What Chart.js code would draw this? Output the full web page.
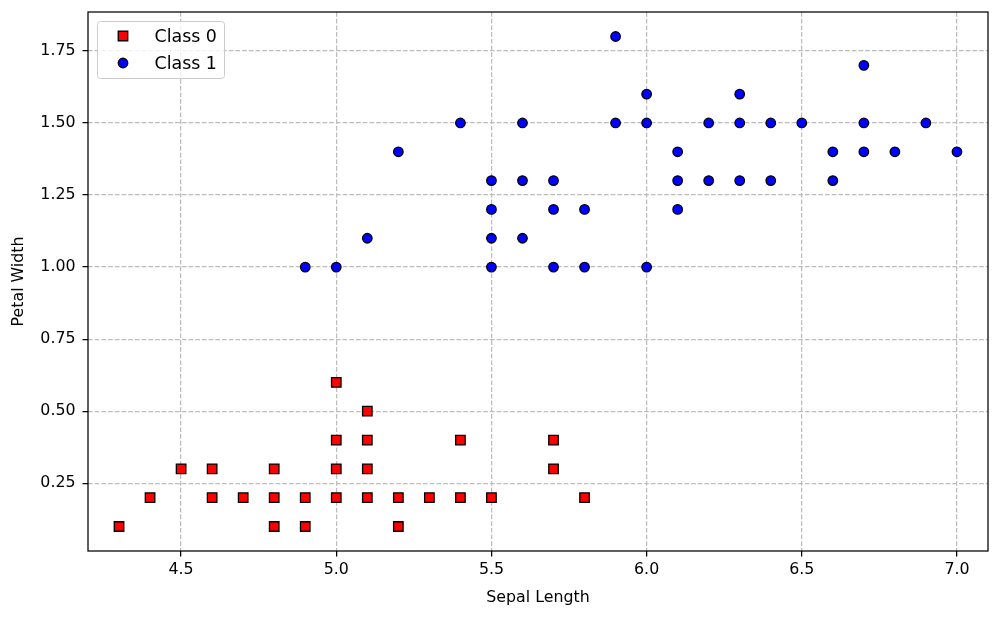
<!DOCTYPE html>
<html>
<head>
<meta charset="utf-8">
<title>Iris scatter</title>
<script src="https://cdn.jsdelivr.net/npm/chart.js@4/dist/chart.umd.min.js"></script>
<style>
  html, body { margin: 0; padding: 0; background: #fff; }
  canvas { display: block; }
</style>
</head>
<body>
<canvas id="chart" width="1000" height="618"></canvas>
<script>
/* ================================
   Data
================================ */
const class0X = [4.3, 4.4, 4.5, 4.6, 4.6, 4.7, 4.8, 4.8, 4.8, 4.9, 4.9, 5.0, 5.0, 5.0, 5.0,
                 5.1, 5.1, 5.1, 5.1, 5.2, 5.2, 5.3, 5.4, 5.4, 5.5, 5.7, 5.7, 5.8];
const class0Y = [0.1, 0.2, 0.3, 0.3, 0.2, 0.2, 0.3, 0.2, 0.1, 0.2, 0.1, 0.6, 0.4, 0.3, 0.2,
                 0.5, 0.4, 0.3, 0.2, 0.2, 0.1, 0.2, 0.4, 0.2, 0.2, 0.4, 0.3, 0.2];

const class1X = [4.9, 5.0, 5.1, 5.2, 5.4, 5.5, 5.5, 5.5, 5.5, 5.6, 5.6, 5.6, 5.7, 5.7, 5.7,
                 5.8, 5.8, 5.9, 5.9, 6.0, 6.0, 6.0, 6.1, 6.1, 6.1, 6.2, 6.2, 6.3, 6.3, 6.3,
                 6.4, 6.4, 6.5, 6.6, 6.6, 6.7, 6.7, 6.7, 6.8, 6.9, 7.0];
const class1Y = [1.0, 1.0, 1.1, 1.4, 1.5, 1.3, 1.2, 1.1, 1.0, 1.5, 1.3, 1.1, 1.3, 1.2, 1.0,
                 1.2, 1.0, 1.8, 1.5, 1.6, 1.5, 1.0, 1.4, 1.3, 1.2, 1.5, 1.3, 1.6, 1.5, 1.3,
                 1.5, 1.3, 1.5, 1.4, 1.3, 1.7, 1.5, 1.4, 1.4, 1.5, 1.4];

const xTicks = [4.5, 5.0, 5.5, 6.0, 6.5, 7.0];
const yTicks = [0.25, 0.50, 0.75, 1.00, 1.25, 1.50, 1.75];

const seriesLabels = ['Class 0', 'Class 1'];

/* ================================
   Helpers
================================ */
const FONT = 'DejaVu Sans';
const toPoints = (xs, ys) => xs.map((x, i) => ({ x: x, y: ys[i] }));

// black frame round the plot area (matplotlib spines)
const framePlugin = {
  id: 'frame',
  afterDraw(chart) {
    const { ctx, chartArea: a } = chart;
    ctx.save();
    ctx.strokeStyle = '#000';
    ctx.lineWidth = 1.25;
    ctx.strokeRect(a.left, a.top, a.right - a.left, a.bottom - a.top);
    ctx.restore();
  }
};

// legend box in the upper left corner of the plot
const legendPlugin = {
  id: 'cornerLegend',
  afterDraw(chart) {
    const { ctx, chartArea: a } = chart;
    const x0 = a.left + 9.5, y0 = a.top + 9.5;
    const w = 127, h = 57;
    ctx.save();
    ctx.beginPath();
    ctx.roundRect(x0, y0, w, h, 3);
    ctx.fillStyle = 'rgba(255,255,255,0.8)';
    ctx.fill();
    ctx.strokeStyle = '#cccccc';
    ctx.lineWidth = 1;
    ctx.stroke();

    chart.data.datasets.forEach((ds, i) => {
      const cy = y0 + 14.5 + i * 27;
      const cx = x0 + 25.5;
      ctx.beginPath();
      if (ds.pointStyle === 'rect') {
        ctx.rect(cx - 4.75, cy - 4.75, 9.5, 9.5);
      } else {
        ctx.arc(cx, cy, 4.75, 0, Math.PI * 2);
      }
      ctx.fillStyle = ds.backgroundColor;
      ctx.fill();
      ctx.strokeStyle = ds.borderColor;
      ctx.lineWidth = ds.borderWidth;
      ctx.stroke();

      ctx.fillStyle = '#000';
      ctx.font = '17.4px "' + FONT + '"';
      ctx.textAlign = 'left';
      ctx.textBaseline = 'middle';
      ctx.fillText(ds.label, x0 + 57, cy + 1);
    });
    ctx.restore();
  }
};

/* ================================
   Chart
================================ */
const gridStyle = {
  color: '#bdbdbd',
  lineWidth: 1.25,
  drawTicks: true,
  tickLength: 5.5,
  tickColor: '#000',
  tickWidth: 1.25,
  tickBorderDash: []
};

new Chart(document.getElementById('chart').getContext('2d'), {
  type: 'scatter',
  data: {
    datasets: [
      {
        label: seriesLabels[0],
        data: toPoints(class0X, class0Y),
        pointStyle: 'rect',
        pointRadius: 6.72,
        backgroundColor: '#ff0000',
        borderColor: '#000000',
        borderWidth: 1.3
      },
      {
        label: seriesLabels[1],
        data: toPoints(class1X, class1Y),
        pointStyle: 'circle',
        pointRadius: 4.75,
        backgroundColor: '#0000ff',
        borderColor: '#000000',
        borderWidth: 1.3
      }
    ]
  },
  options: {
    responsive: false,
    animation: false,
    events: [],
    layout: { padding: { left: 0, right: 12, top: 12, bottom: 0 } },
    plugins: {
      legend: { display: false },
      tooltip: { enabled: false }
    },
    scales: {
      x: {
        type: 'linear',
        position: 'bottom',
        min: 4.2,
        max: 7.1,
        afterBuildTicks: scale => { scale.ticks = xTicks.map(v => ({ value: v })); },
        afterFit: scale => {
          scale.height = 67;
          scale.paddingLeft = 0;
          scale.paddingRight = 0;
        },
        grid: gridStyle,
        border: { display: false, dash: [4.7, 2] },
        ticks: {
          color: '#000',
          padding: 4,
          maxRotation: 0,
          font: { family: FONT, size: 15.8 },
          callback: v => v.toFixed(1)
        },
        title: {
          display: true,
          text: 'Sepal Length',
          color: '#000',
          font: { family: FONT, size: 15.8 },
          padding: { top: 0, bottom: 11 }
        }
      },
      y: {
        type: 'linear',
        position: 'left',
        min: 0.015,
        max: 1.885,
        afterBuildTicks: scale => { scale.ticks = yTicks.map(v => ({ value: v })); },
        afterFit: scale => {
          scale.width = 88;
          scale.paddingTop = 0;
          scale.paddingBottom = 0;
        },
        grid: gridStyle,
        border: { display: false, dash: [4.7, 2] },
        ticks: {
          color: '#000',
          padding: 7,
          font: { family: FONT, size: 15.8 },
          callback: v => v.toFixed(2)
        },
        title: {
          display: true,
          text: 'Petal Width',
          color: '#000',
          font: { family: FONT, size: 15.8 },
          padding: { top: 9, bottom: 0 }
        }
      }
    }
  },
  plugins: [framePlugin, legendPlugin]
});
</script>
</body>
</html>
